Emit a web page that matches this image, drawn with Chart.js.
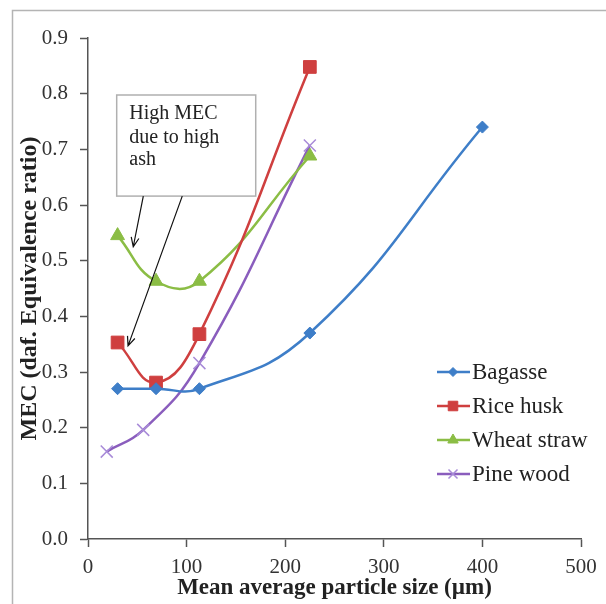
<!DOCTYPE html>
<html>
<head>
<meta charset="utf-8">
<script src="https://cdn.jsdelivr.net/npm/chart.js@4"></script>
<style>
  html, body { margin: 0; padding: 0; background: #fff; }
</style>
</head>
<body>
<canvas id="mecChart" width="606" height="604"></canvas>
<script>
// data
const seriesNames = ['Bagasse', 'Rice husk', 'Wheat straw', 'Pine wood'];
const bagasseX = [30, 69, 113, 225, 400];
const bagasseY = [0.27, 0.27, 0.27, 0.37, 0.74];
const riceX = [30, 69, 113, 225];
const riceY = [0.353, 0.281, 0.368, 0.848];
const wheatX = [30, 69, 113, 225];
const wheatY = [0.545, 0.463, 0.463, 0.688];
const pineX = [19, 56, 113, 225];
const pineY = [0.157, 0.196, 0.316, 0.707];
const xTicks = [0, 100, 200, 300, 400, 500];
const yTicks = [0, 0.1, 0.2, 0.3, 0.4, 0.5, 0.6, 0.7, 0.8, 0.9];
const noteLines = ['High MEC', 'due to high', 'ash'];

const serif = "'Liberation Serif', 'Times New Roman', serif";
const toPts = (xs, ys) => xs.map((x, i) => ({ x: x, y: ys[i] }));

function series(i, xs, ys, color, style, radius, markColor) {
  return {
    label: seriesNames[i],
    data: toPts(xs, ys),
    borderColor: color,
    backgroundColor: markColor || color,
    pointBorderColor: markColor || color,
    pointBackgroundColor: markColor || color,
    pointStyle: style,
    pointRadius: radius,
    pointBorderWidth: style === 'crossRot' ? 1.5 : 1,
    borderWidth: 2.5,
    tension: 0.45,
    fill: false,
    clip: false
  };
}

const datasets = [
  series(0, bagasseX, bagasseY, '#3e7ec8', 'rectRot', 6),
  series(1, riceX, riceY, '#cf3f3f', 'rect', 9),
  series(2, wheatX, wheatY, '#8bbd45', 'triangle', 8),
  series(3, pineX, pineY, '#8a5dbd', 'crossRot', 8.5, '#a88bd8')
];

// frame, note box with arrows, legend
const extras = {
  id: 'extras',
  beforeDraw(chart) {
    const c = chart.ctx;
    c.save();
    c.fillStyle = '#fff';
    c.fillRect(0, 0, chart.width, chart.height);
    c.strokeStyle = '#b4b4b4';
    c.lineWidth = 1.5;
    c.beginPath();
    c.moveTo(12.5, chart.height);
    c.lineTo(12.5, 10.5);
    c.lineTo(chart.width, 10.5);
    c.stroke();
    c.restore();
  },
  afterDraw(chart) {
    const c = chart.ctx;
    const sx = chart.scales.x, sy = chart.scales.y;
    const px = v => sx.getPixelForValue(v);
    const py = v => sy.getPixelForValue(v);

    // note box
    c.save();
    const bx1 = px(29.1), bx2 = px(170.1), by1 = py(0.7976), by2 = py(0.616);
    c.fillStyle = '#fff';
    c.fillRect(bx1, by1, bx2 - bx1, by2 - by1);
    c.strokeStyle = '#b0b0b0';
    c.lineWidth = 1.5;
    c.strokeRect(bx1, by1, bx2 - bx1, by2 - by1);
    c.fillStyle = '#222';
    c.font = '20px ' + serif;
    c.textBaseline = 'alphabetic';
    c.textAlign = 'left';
    const lineY = [0.754, 0.711, 0.672];
    noteLines.forEach((t, i) => c.fillText(t, px(41.9), py(lineY[i])));

    // arrows
    function arrow(x1, y1, x2, y2) {
      const a = px(x1), b = py(y1), e = px(x2), f = py(y2);
      const ang = Math.atan2(f - b, e - a);
      c.beginPath();
      c.moveTo(a, b);
      c.lineTo(e, f);
      c.moveTo(e - 10 * Math.cos(ang - 0.4), f - 10 * Math.sin(ang - 0.4));
      c.lineTo(e, f);
      c.lineTo(e - 10 * Math.cos(ang + 0.4), f - 10 * Math.sin(ang + 0.4));
      c.stroke();
    }
    c.strokeStyle = '#111';
    c.lineWidth = 1.2;
    arrow(56.1, 0.616, 45.9, 0.525);
    arrow(95.6, 0.616, 40.6, 0.347);
    c.restore();

    // legend
    c.save();
    c.font = '23px ' + serif;
    c.textBaseline = 'middle';
    c.textAlign = 'left';
    chart.data.datasets.forEach((ds, i) => {
      const y = 372 + i * 34;
      c.strokeStyle = ds.borderColor;
      c.lineWidth = 2.5;
      c.beginPath();
      c.moveTo(437, y);
      c.lineTo(470, y);
      c.stroke();
      c.fillStyle = ds.pointBackgroundColor;
      c.strokeStyle = ds.pointBorderColor;
      c.lineWidth = ds.pointBorderWidth;
      if (Chart.helpers && Chart.helpers.drawPoint) {
        Chart.helpers.drawPoint(c, { pointStyle: ds.pointStyle, radius: ds.pointRadius * 0.75, rotation: 0, borderWidth: ds.pointBorderWidth }, 453, y);
      }
      c.fillStyle = '#222';
      c.fillText(ds.label, 472, y + 1);
    });
    c.restore();
  }
};

const ctx = document.getElementById('mecChart');
new Chart(ctx, {
  type: 'line',
  data: { datasets: datasets },
  plugins: [extras],
  options: {
    responsive: false,
    animation: false,
    devicePixelRatio: 1,
    layout: { padding: { left: 0, right: 25, top: 38, bottom: 0 } },
    plugins: { legend: { display: false }, tooltip: { enabled: false } },
    scales: {
      x: {
        type: 'linear',
        min: 0, max: 500,
        afterFit: s => { s.height = 65; },
        afterBuildTicks: s => { s.ticks = xTicks.map(v => ({ value: v })); },
        ticks: { color: '#333', font: { family: serif, size: 21 }, padding: 8, maxRotation: 0 },
        grid: { drawOnChartArea: false, drawTicks: true, tickLength: 8, color: '#555', tickWidth: 1.5 },
        border: { display: true, color: '#555', width: 1.5 },
        title: { display: true, text: 'Mean average particle size (µm)', color: '#222',
                 font: { family: serif, size: 23, weight: 'bold' }, padding: { top: 0, bottom: 2 } }
      },
      y: {
        min: 0, max: 0.9,
        afterFit: s => { s.width = 88; },
        afterBuildTicks: s => { s.ticks = yTicks.map(v => ({ value: v })); },
        ticks: { color: '#333', font: { family: serif, size: 21 }, padding: 12,
                 callback: v => Number(v).toFixed(1) },
        grid: { drawOnChartArea: false, drawTicks: true, tickLength: 8, color: '#555', tickWidth: 1.5 },
        border: { display: true, color: '#555', width: 1.5 },
        title: { display: true, text: 'MEC (daf. Equivalence ratio)', color: '#222',
                 font: { family: serif, size: 24, weight: 'bold' }, padding: { top: 15, bottom: 0 } }
      }
    }
  }
});
</script>
</body>
</html>
